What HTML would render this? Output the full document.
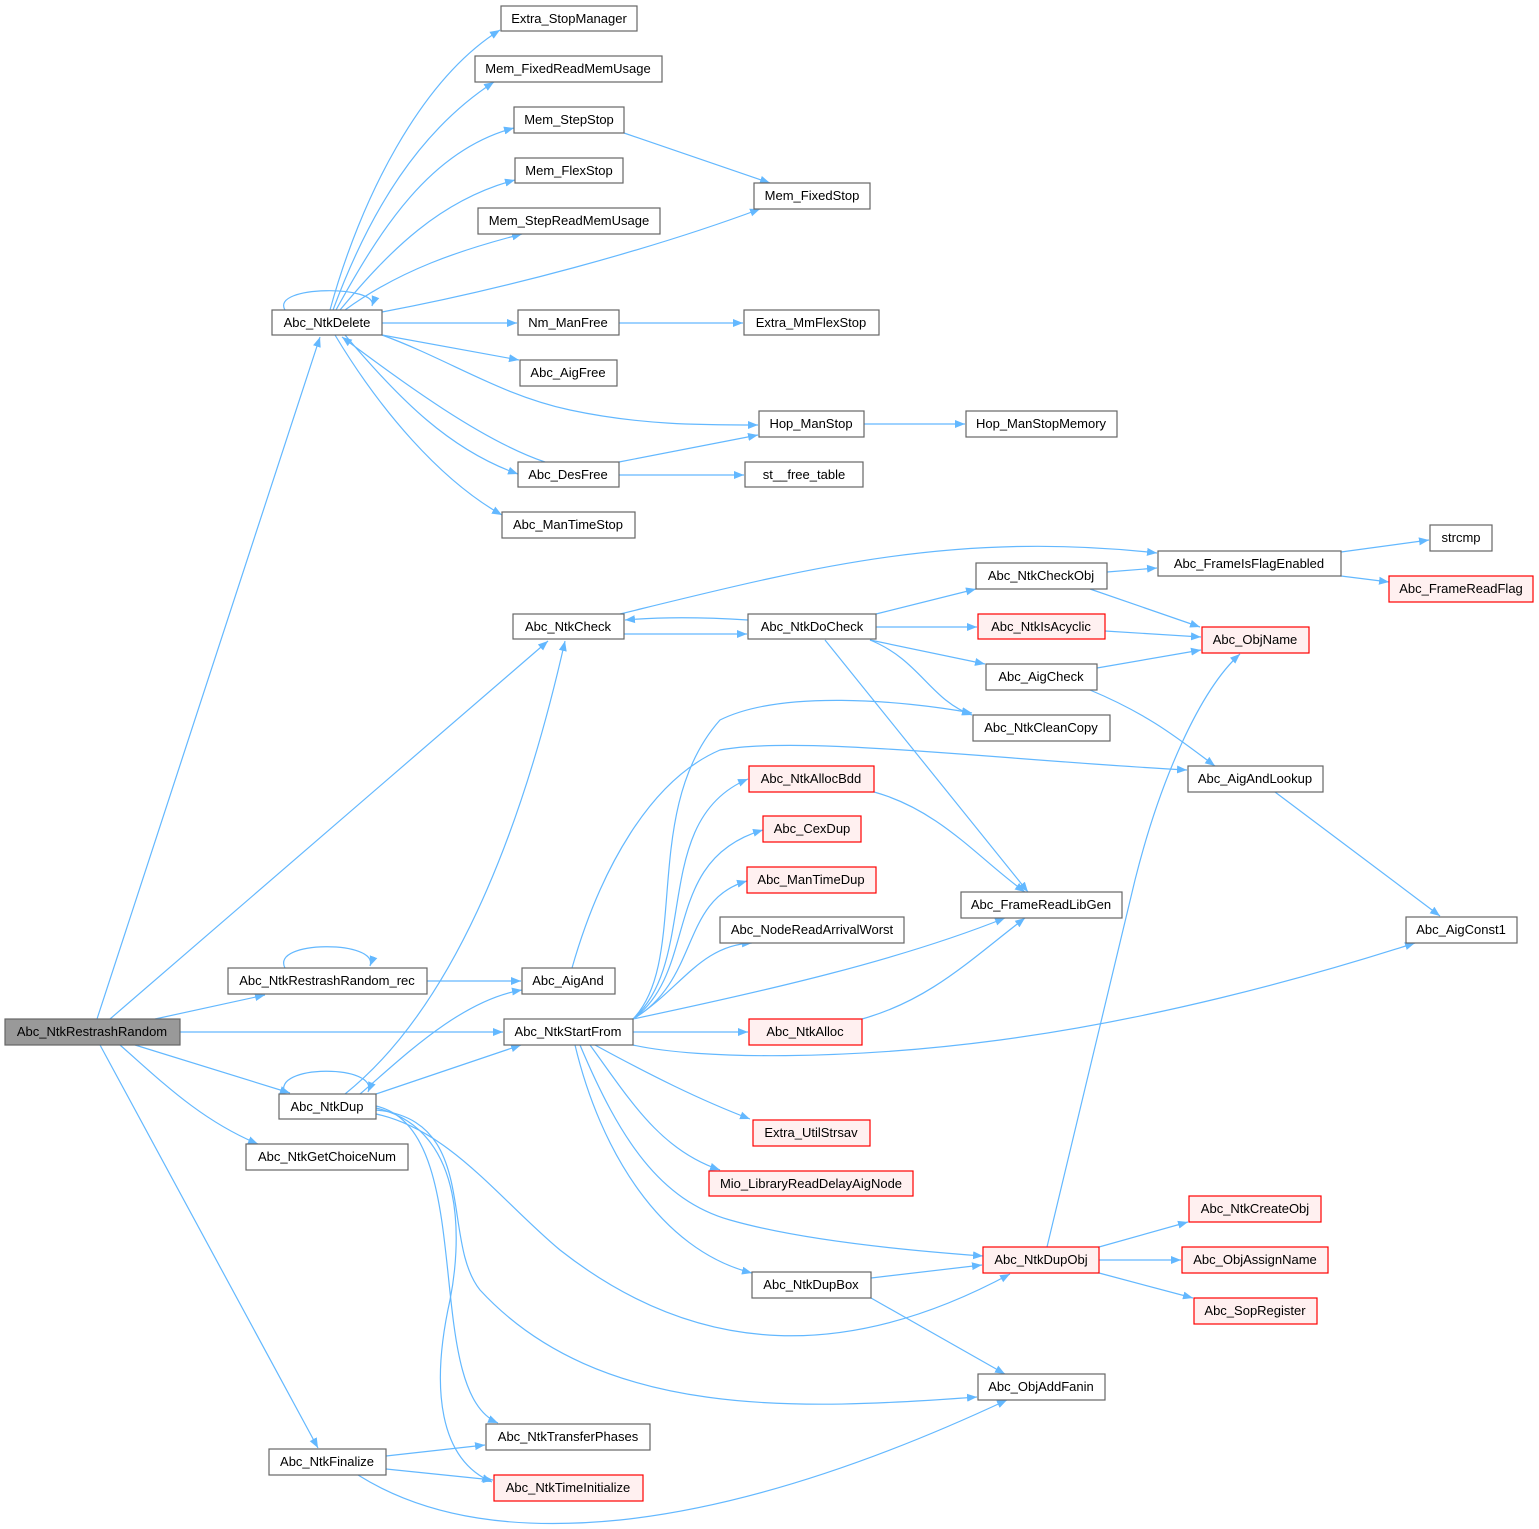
<!DOCTYPE html>
<html><head><meta charset="utf-8"><style>
html,body{margin:0;padding:0;background:#fff;}
svg{display:block;}
text{font-family:"Liberation Sans",Arial,sans-serif;font-size:13px;fill:#000;}
.e{fill:none;stroke:#63b8ff;stroke-width:1.2;}
.n{fill:#fff;stroke:#666;stroke-width:1.2;}
.r{fill:#fff0f0;stroke:#ff0000;stroke-width:1.2;}
.g{fill:#999;stroke:#666;stroke-width:1.2;}
</style></head><body>
<svg width="1539" height="1529" viewBox="0 0 1539 1529" xmlns="http://www.w3.org/2000/svg">
<defs><marker id="a" viewBox="0 0 10 10" refX="10" refY="5" markerWidth="10" markerHeight="10" markerUnits="userSpaceOnUse" orient="auto"><path d="M0,1 L10,5 L0,9 z" fill="#63b8ff"/></marker></defs>
<g marker-end="url(#a)">
<!-- from RestrashRandom -->
<path class="e" d="M97,1019 L320,337"/>
<path class="e" d="M110,1019 L548,641"/>
<path class="e" d="M155,1019 L265,995"/>
<path class="e" d="M180,1032 L503,1032"/>
<path class="e" d="M135,1045 L290,1093"/>
<path class="e" d="M120,1045 C160,1080 200,1120 258,1144"/>
<path class="e" d="M100,1045 L318,1448"/>
<!-- rec -->
<path class="e" d="M285,968 C270,940 380,940 370,966"/>
<path class="e" d="M427,981 L521,981"/>
<!-- NtkDup -->
<path class="e" d="M285,1094 C270,1064 380,1064 368,1092"/>
<path class="e" d="M345,1094 C450,1010 520,840 565,641"/>
<path class="e" d="M360,1094 C400,1060 460,1000 522,990"/>
<path class="e" d="M376,1094 L521,1045"/>
<path class="e" d="M376,1114 C450,1130 500,1200 560,1250 C700,1360 850,1360 1010,1274"/>
<path class="e" d="M376,1110 C480,1120 440,1240 480,1290 C600,1420 800,1410 977,1397"/>
<path class="e" d="M376,1106 C480,1130 420,1390 498,1423"/>
<path class="e" d="M376,1108 C470,1130 460,1250 450,1300 C430,1390 440,1460 492,1482"/>
<!-- Finalize -->
<path class="e" d="M386,1456 L485,1445"/>
<path class="e" d="M386,1469 L493,1480"/>
<path class="e" d="M358,1475 C430,1520 520,1530 620,1520 C760,1505 900,1450 1007,1400"/>
<!-- NtkDelete -->
<path class="e" d="M330,310 C360,200 420,80 500,30"/>
<path class="e" d="M333,310 C370,210 420,130 494,82"/>
<path class="e" d="M336,310 C380,230 430,150 514,128"/>
<path class="e" d="M340,310 C390,250 440,200 515,180"/>
<path class="e" d="M345,310 C400,270 460,250 522,234"/>
<path class="e" d="M285,310 C270,285 380,285 372,306"/>
<path class="e" d="M382,312 C500,290 650,250 760,209"/>
<path class="e" d="M382,323 L517,323"/>
<path class="e" d="M382,335 L519,360"/>
<path class="e" d="M382,335 C450,360 500,395 570,410 C640,425 700,425 758,425"/>
<path class="e" d="M345,335 C400,400 450,450 518,474"/>
<path class="e" d="M335,335 C380,410 440,480 502,515"/>
<path class="e" d="M545,462 C480,440 400,380 342,337"/>
<path class="e" d="M619,462 L758,435"/>
<path class="e" d="M619,475 L744,475"/>
<path class="e" d="M624,133 L770,183"/>
<path class="e" d="M619,323 L743,323"/>
<path class="e" d="M864,424 L965,424"/>
<!-- check -->
<path class="e" d="M624,634 L747,634"/>
<path class="e" d="M748,620 C700,617 660,617 625,620"/>
<path class="e" d="M620,614 C800,570 950,530 1157,553"/>
<path class="e" d="M876,614 L976,589"/>
<path class="e" d="M876,627 L977,627"/>
<path class="e" d="M870,640 L985,664"/>
<path class="e" d="M870,640 C920,660 930,700 972,715"/>
<path class="e" d="M825,640 L1028,892"/>
<path class="e" d="M1107,572 L1157,568"/>
<path class="e" d="M1090,589 L1200,627"/>
<path class="e" d="M1105,631 L1201,637"/>
<path class="e" d="M1097,668 L1201,650"/>
<path class="e" d="M1090,690 C1150,715 1180,740 1215,766"/>
<path class="e" d="M1341,552 L1429,540"/>
<path class="e" d="M1341,576 L1389,582"/>
<path class="e" d="M1275,792 L1440,916"/>
<!-- AigAnd -->
<path class="e" d="M572,968 C600,870 650,780 720,750 C800,735 1000,760 1187,770"/>
<!-- StartFrom -->
<path class="e" d="M633,1019 C690,960 640,810 720,720 C780,690 900,700 972,713"/>
<path class="e" d="M633,1019 C700,960 650,820 748,779"/>
<path class="e" d="M633,1019 C700,970 660,860 763,830"/>
<path class="e" d="M633,1019 C700,980 680,900 747,881"/>
<path class="e" d="M633,1019 C680,990 700,945 752,943"/>
<path class="e" d="M633,1019 C770,990 900,960 1005,918"/>
<path class="e" d="M633,1032 L748,1032"/>
<path class="e" d="M633,1045 C700,1060 850,1060 1000,1040 C1150,1020 1300,980 1415,943"/>
<path class="e" d="M595,1045 C650,1075 700,1100 750,1119"/>
<path class="e" d="M590,1045 C630,1100 660,1150 720,1170"/>
<path class="e" d="M580,1045 C620,1140 660,1200 730,1220 C800,1240 900,1250 983,1256"/>
<path class="e" d="M575,1045 C600,1150 660,1250 752,1273"/>
<path class="e" d="M874,792 C940,810 980,860 1025,892"/>
<path class="e" d="M862,1019 C930,1000 970,960 1025,918"/>
<!-- DupObj / DupBox -->
<path class="e" d="M1047,1247 L1135,880 C1160,780 1200,690 1240,654"/>
<path class="e" d="M1099,1247 L1188,1222"/>
<path class="e" d="M1099,1260 L1181,1260"/>
<path class="e" d="M1099,1273 L1193,1298"/>
<path class="e" d="M871,1278 L982,1265"/>
<path class="e" d="M871,1298 L1005,1374"/>
</g>
<!-- nodes -->
<g>
<rect class="g" x="5" y="1019" width="175" height="26"/><text x="92" y="1036" text-anchor="middle">Abc_NtkRestrashRandom</text>
<rect class="n" x="272" y="310" width="110" height="25"/><text x="327" y="327" text-anchor="middle">Abc_NtkDelete</text>
<rect class="n" x="228" y="968" width="199" height="26"/><text x="327" y="985" text-anchor="middle">Abc_NtkRestrashRandom_rec</text>
<rect class="n" x="279" y="1094" width="97" height="25"/><text x="327" y="1111" text-anchor="middle">Abc_NtkDup</text>
<rect class="n" x="246" y="1144" width="162" height="26"/><text x="327" y="1161" text-anchor="middle">Abc_NtkGetChoiceNum</text>
<rect class="n" x="269" y="1449" width="117" height="26"/><text x="327" y="1466" text-anchor="middle">Abc_NtkFinalize</text>
<rect class="n" x="501" y="6" width="136" height="25"/><text x="569" y="23" text-anchor="middle">Extra_StopManager</text>
<rect class="n" x="475" y="56" width="187" height="26"/><text x="568" y="73" text-anchor="middle">Mem_FixedReadMemUsage</text>
<rect class="n" x="514" y="107" width="110" height="26"/><text x="569" y="124" text-anchor="middle">Mem_StepStop</text>
<rect class="n" x="515" y="158" width="108" height="25"/><text x="569" y="175" text-anchor="middle">Mem_FlexStop</text>
<rect class="n" x="478" y="208" width="182" height="26"/><text x="569" y="225" text-anchor="middle">Mem_StepReadMemUsage</text>
<rect class="n" x="518" y="310" width="101" height="25"/><text x="568" y="327" text-anchor="middle">Nm_ManFree</text>
<rect class="n" x="520" y="360" width="97" height="26"/><text x="568" y="377" text-anchor="middle">Abc_AigFree</text>
<rect class="n" x="518" y="462" width="101" height="25"/><text x="568" y="479" text-anchor="middle">Abc_DesFree</text>
<rect class="n" x="502" y="512" width="133" height="26"/><text x="568" y="529" text-anchor="middle">Abc_ManTimeStop</text>
<rect class="n" x="754" y="183" width="116" height="26"/><text x="812" y="200" text-anchor="middle">Mem_FixedStop</text>
<rect class="n" x="744" y="310" width="135" height="25"/><text x="811" y="327" text-anchor="middle">Extra_MmFlexStop</text>
<rect class="n" x="759" y="411" width="105" height="26"/><text x="811" y="428" text-anchor="middle">Hop_ManStop</text>
<rect class="n" x="745" y="462" width="118" height="25"/><text x="804" y="479" text-anchor="middle">st__free_table</text>
<rect class="n" x="966" y="411" width="151" height="26"/><text x="1041" y="428" text-anchor="middle">Hop_ManStopMemory</text>
<rect class="n" x="513" y="614" width="111" height="25"/><text x="568" y="631" text-anchor="middle">Abc_NtkCheck</text>
<rect class="n" x="748" y="614" width="128" height="25"/><text x="812" y="631" text-anchor="middle">Abc_NtkDoCheck</text>
<rect class="n" x="976" y="563" width="131" height="26"/><text x="1041" y="580" text-anchor="middle">Abc_NtkCheckObj</text>
<rect class="r" x="978" y="614" width="127" height="25"/><text x="1041" y="631" text-anchor="middle">Abc_NtkIsAcyclic</text>
<rect class="n" x="986" y="664" width="111" height="26"/><text x="1041" y="681" text-anchor="middle">Abc_AigCheck</text>
<rect class="n" x="973" y="715" width="137" height="26"/><text x="1041" y="732" text-anchor="middle">Abc_NtkCleanCopy</text>
<rect class="n" x="1158" y="551" width="183" height="25"/><text x="1249" y="568" text-anchor="middle">Abc_FrameIsFlagEnabled</text>
<rect class="n" x="1430" y="525" width="62" height="26"/><text x="1461" y="542" text-anchor="middle">strcmp</text>
<rect class="r" x="1389" y="576" width="144" height="26"/><text x="1461" y="593" text-anchor="middle">Abc_FrameReadFlag</text>
<rect class="r" x="1202" y="627" width="107" height="26"/><text x="1255" y="644" text-anchor="middle">Abc_ObjName</text>
<rect class="n" x="1188" y="766" width="135" height="26"/><text x="1255" y="783" text-anchor="middle">Abc_AigAndLookup</text>
<rect class="n" x="1406" y="917" width="111" height="26"/><text x="1461" y="934" text-anchor="middle">Abc_AigConst1</text>
<rect class="r" x="749" y="766" width="125" height="26"/><text x="811" y="783" text-anchor="middle">Abc_NtkAllocBdd</text>
<rect class="r" x="763" y="816" width="98" height="26"/><text x="812" y="833" text-anchor="middle">Abc_CexDup</text>
<rect class="r" x="747" y="867" width="129" height="26"/><text x="811" y="884" text-anchor="middle">Abc_ManTimeDup</text>
<rect class="n" x="720" y="917" width="184" height="26"/><text x="812" y="934" text-anchor="middle">Abc_NodeReadArrivalWorst</text>
<rect class="n" x="961" y="892" width="161" height="26"/><text x="1041" y="909" text-anchor="middle">Abc_FrameReadLibGen</text>
<rect class="n" x="522" y="968" width="93" height="26"/><text x="568" y="985" text-anchor="middle">Abc_AigAnd</text>
<rect class="n" x="504" y="1019" width="129" height="26"/><text x="568" y="1036" text-anchor="middle">Abc_NtkStartFrom</text>
<rect class="r" x="749" y="1019" width="113" height="26"/><text x="805" y="1036" text-anchor="middle">Abc_NtkAlloc</text>
<rect class="r" x="753" y="1120" width="117" height="26"/><text x="811" y="1137" text-anchor="middle">Extra_UtilStrsav</text>
<rect class="r" x="709" y="1171" width="204" height="25"/><text x="811" y="1188" text-anchor="middle">Mio_LibraryReadDelayAigNode</text>
<rect class="r" x="983" y="1247" width="116" height="26"/><text x="1041" y="1264" text-anchor="middle">Abc_NtkDupObj</text>
<rect class="n" x="752" y="1272" width="119" height="26"/><text x="811" y="1289" text-anchor="middle">Abc_NtkDupBox</text>
<rect class="r" x="1189" y="1196" width="132" height="26"/><text x="1255" y="1213" text-anchor="middle">Abc_NtkCreateObj</text>
<rect class="r" x="1182" y="1247" width="146" height="26"/><text x="1255" y="1264" text-anchor="middle">Abc_ObjAssignName</text>
<rect class="r" x="1194" y="1298" width="123" height="26"/><text x="1255" y="1315" text-anchor="middle">Abc_SopRegister</text>
<rect class="n" x="978" y="1374" width="127" height="26"/><text x="1041" y="1391" text-anchor="middle">Abc_ObjAddFanin</text>
<rect class="n" x="486" y="1424" width="164" height="26"/><text x="568" y="1441" text-anchor="middle">Abc_NtkTransferPhases</text>
<rect class="r" x="494" y="1475" width="149" height="26"/><text x="568" y="1492" text-anchor="middle">Abc_NtkTimeInitialize</text>
</g>
</svg>
</body></html>
